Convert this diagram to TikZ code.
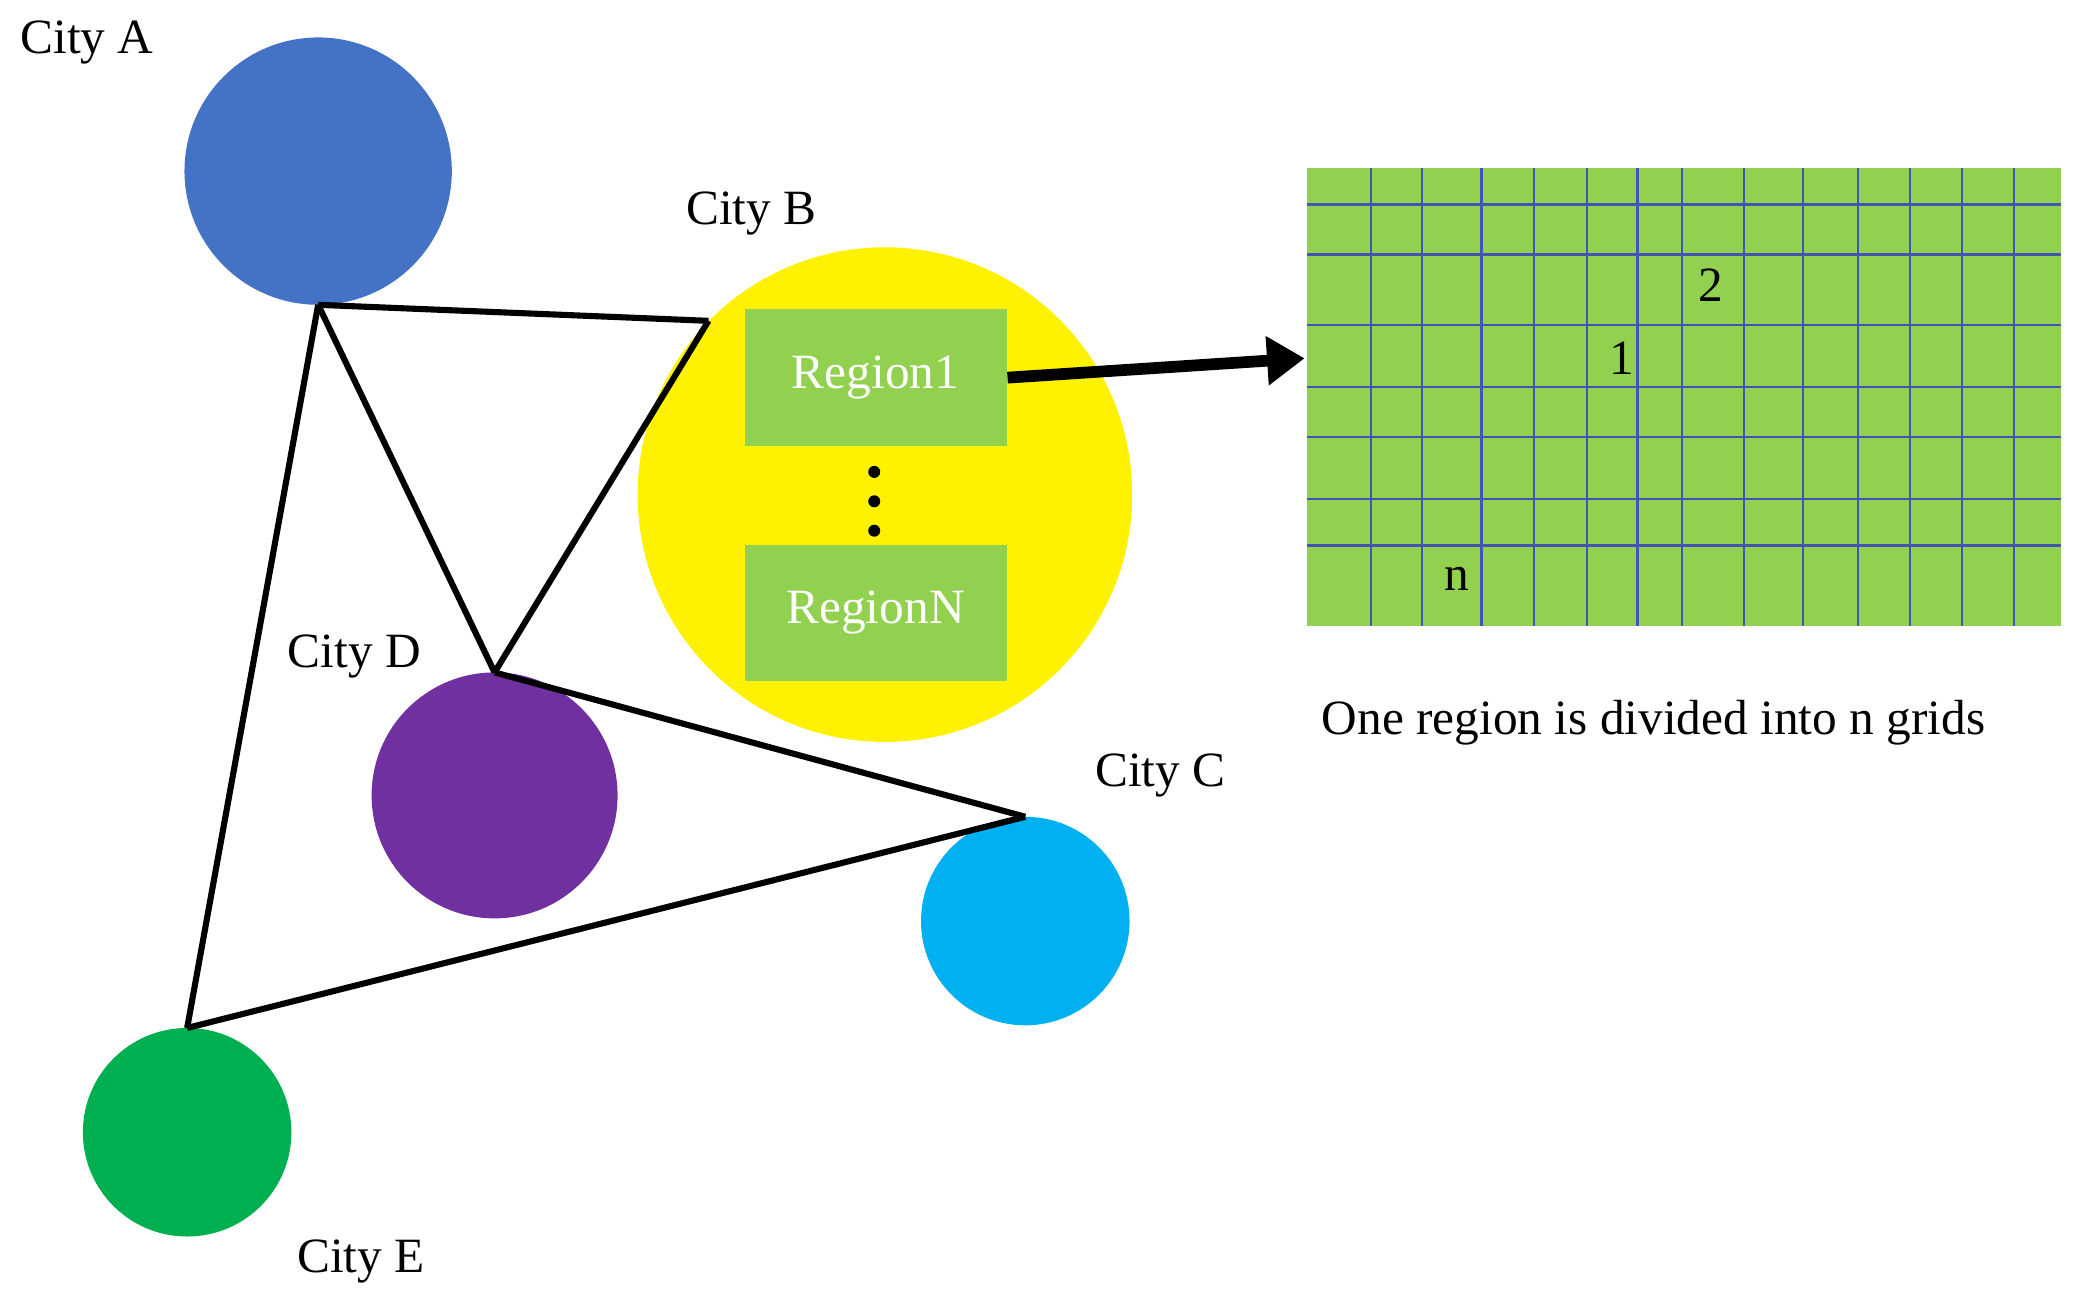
\documentclass[tikz,border=0pt]{standalone}
\usepackage{fontspec}
\setmainfont{Liberation Serif}
\usepackage{tikz}
\usetikzlibrary{calc,arrows.meta}
\definecolor{cityA}{RGB}{68,114,196}
\definecolor{cityD}{RGB}{112,48,160}
\definecolor{cityC}{RGB}{0,176,240}
\definecolor{cityE}{RGB}{0,176,80}
\definecolor{regfill}{RGB}{146,208,80}
\definecolor{gridline}{RGB}{68,84,180}
\tikzset{
  city/.style={circle,inner sep=0pt},
  region/.style={fill=regfill,minimum width=1.96cm,minimum height=1.02cm,text=white,font=\fontsize{10.5}{12}\selectfont},
  lbl/.style={font=\fontsize{10.5}{12}\selectfont},
  edge/.style={line width=1.3pt}
}
\begin{document}
\begin{tikzpicture}
\useasboundingbox (0,0) rectangle (15.68,-9.83);

\node [city,fill=cityA,minimum size=2cm] (A) at (2.38,-1.28){};
\node [city,fill=yellow,minimum size=3.7cm] (B) at (6.62,-3.70){};
\node [city,fill=cityD,minimum size=1.84cm] (D) at (3.70,-5.95){};
\node [city,fill=cityC,minimum size=1.56cm] (C) at (7.67,-6.89){};
\node [city,fill=cityE,minimum size=1.56cm] (E) at (1.40,-8.47){};

\node [lbl] (LA) at (0.65,-0.32){City A};
\node [lbl] (LB) at (5.62,-1.60){City B};
\node [lbl] (LD) at (2.65,-4.91){City D};
\node [lbl] (LC) at (8.68,-5.80){City C};
\node [lbl] (LE) at (2.70,-9.44){City E};

\coordinate (pA) at (2.38,-2.28);
\coordinate (pB) at (5.30,-2.40);
\coordinate (pD) at (3.70,-5.03);
\coordinate (pC) at (7.67,-6.11);
\coordinate (pE) at (1.40,-7.69);

\draw [edge] (pA) -- (pB);
\draw [edge] (pA) -- (pD);
\draw [edge] (pB) -- (pD);
\draw [edge] (pA) -- (pE);
\draw [edge] (pD) -- (pC);
\draw [edge] (pC) -- (pE);

\node [region] (R1) at (6.55,-2.825){Region1};
\node [region] (RN) at (6.55,-4.585){RegionN};
\foreach \y in {-3.53,-3.75,-3.97}
  \fill (6.54,\y) circle (0.045);

% grid
\fill [regfill] (9.78,-1.26) rectangle (15.42,-4.68);
\foreach \f in {0.084,0.152,0.231,0.301,0.371,0.438,0.497,0.579,0.657,0.730,0.799,0.868,0.937}
  \draw [gridline,line width=0.5pt] ($(9.78,-1.26)+(\f*5.64,0)$) -- ++(0,-3.42);
\foreach \f in {0.079,0.188,0.342,0.478,0.588,0.723,0.825}
  \draw [gridline,line width=0.5pt] ($(9.78,-1.26)+(0,-\f*3.42)$) -- ++(5.64,0);
\node [lbl] (G2) at (12.80,-2.13){2};
\node [lbl] (G1) at (12.13,-2.68){1};
\node [lbl] (Gn) at (10.90,-4.33){n};
\coordinate (Gin) at (9.76,-2.68);

\draw [line width=2.5pt,-{Triangle[length=8pt,width=10pt]}] (R1.east) -- (Gin);

\node [lbl] (cap) at (12.37,-5.41){One region is divided into n grids};
\end{tikzpicture}
\end{document}
